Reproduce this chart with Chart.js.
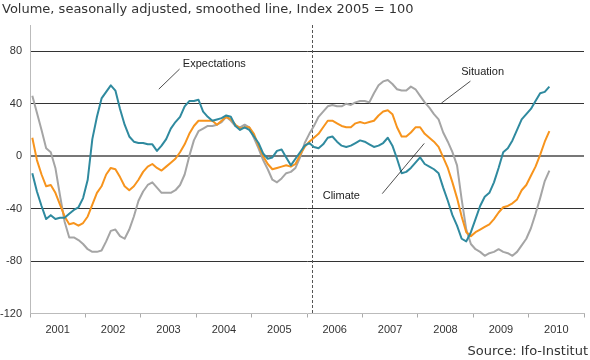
<!DOCTYPE html>
<html><head><meta charset="utf-8">
<script src="https://cdn.jsdelivr.net/npm/chart.js@4/dist/chart.umd.min.js"></script>
<style>html,body{margin:0;padding:0;background:#fff}</style>
</head><body>
<canvas id="c" width="590" height="360"></canvas>
<script>
// ---- data (monthly, Jan 2001 .. May 2010) ----
const years = ['2001','2002','2003','2004','2005','2006','2007','2008','2009','2010'];
const expectations = [
 -13,-27,-38,-48,-45,-48,-47,-47,-44,-41,-39,-32,
 -18,13,30,44,49,54,50,36,24,15,11,10,
 10,9,9,4,8,13,21,26,30,38,42,42,
 43,34,30,27,28,29,31,30,23,20,22,20,
 15,10,2,-2,-1,4,5,-1,-7,-2,3,8,
 10,7,6,9,14,15,11,8,7,8,10,12,
 11,9,7,8,10,14,8,-2,-13,-12,-9,-5,
 -1,-6,-8,-10,-13,-24,-34,-45,-53,-63,-65,-58,
 -48,-38,-31,-28,-20,-9,3,6,12,20,28,32,
 36,42,48,49,53];
const climate = [
 14,-3,-14,-23,-22,-28,-37,-46,-52,-51,-53,-51,
 -46,-37,-28,-23,-14,-9,-10,-16,-23,-26,-23,-18,
 -12,-8,-6,-9,-11,-8,-5,-2,3,9,17,23,
 27,27,27,27,24,27,30,28,24,21,22,22,
 17,8,0,-6,-10,-9,-8,-7,-8,-6,1,7,
 11,14,17,22,27,27,25,23,22,22,25,26,
 25,26,27,31,34,35,32,22,15,15,18,22,
 22,17,14,11,7,-1,-9,-20,-32,-46,-58,-61,
 -58,-56,-54,-52,-48,-43,-39,-38,-36,-33,-26,-22,
 -15,-8,1,11,19];
const situation = [
 46,33,20,6,3,-9,-30,-50,-62,-62,-64,-67,
 -71,-73,-73,-72,-65,-57,-56,-61,-63,-56,-46,-34,
 -27,-22,-20,-24,-28,-28,-28,-26,-22,-14,0,12,
 19,21,23,23,24,26,30,27,23,22,24,22,
 14,6,-3,-10,-18,-20,-17,-13,-12,-9,-1,10,
 17,23,30,34,38,39,38,38,40,39,41,42,
 42,41,48,54,57,58,55,51,50,50,53,51,
 46,41,37,32,28,18,11,3,-7,-33,-56,-67,
 -71,-73,-76,-74,-73,-71,-73,-74,-76,-73,-68,-63,
 -55,-44,-32,-19,-11];
const seriesNames = ['Expectations','Climate','Situation'];
const seriesColors = ['#2f8a9f','#f7941d','#a5a5a5'];
const titleText = 'Volume, seasonally adjusted, smoothed line, Index 2005 = 100';
const sourceText = 'Source: Ifo-Institut';
const breakMonth = 61; // dashed separator (months since Jan 2001)
const annotations = [
 {text:'Expectations', tx:33.1, ty:70.3, line:[27.9,51.1,32.4,66.4]},
 {text:'Situation',    tx:93.4, ty:64.1, line:[89.1,40.4,95.4,57.2]},
 {text:'Climate',      tx:63.4, ty:-30.1, line:[76.3,-28.6,85.4,9.7]}
];

const toPts = arr => arr.map((v,i)=>({x:i+0.5,y:v}));
const FONT = '"Liberation Sans", Arial, sans-serif';

const decor = {
  id:'decor',
  beforeDatasetsDraw(chart){
    const {ctx, chartArea:a, scales:{x}} = chart;
    const px = Math.round(x.getPixelForValue(breakMonth))+0.5;
    ctx.save();
    ctx.strokeStyle = '#555'; ctx.lineWidth = 1; ctx.setLineDash([3,2]);
    ctx.beginPath(); ctx.moveTo(px,a.top); ctx.lineTo(px,a.bottom); ctx.stroke();
    ctx.restore();
  },
  afterDatasetsDraw(chart){
    const {ctx, scales:{x,y}} = chart;
    ctx.save();
    ctx.strokeStyle = '#222'; ctx.lineWidth = 0.8;
    ctx.fillStyle = '#222'; ctx.font = '11px '+FONT; ctx.textBaseline='middle';
    annotations.forEach(a=>{
      const l=a.line;
      ctx.beginPath();
      ctx.moveTo(x.getPixelForValue(l[0]), y.getPixelForValue(l[1]));
      ctx.lineTo(x.getPixelForValue(l[2]), y.getPixelForValue(l[3]));
      ctx.stroke();
      ctx.fillText(a.text, x.getPixelForValue(a.tx), y.getPixelForValue(a.ty));
    });
    ctx.restore();
  },
  afterDraw(chart){
    const ctx = chart.ctx;
    ctx.save();
    ctx.fillStyle = '#333';
    ctx.font = '13px "DejaVu Sans", sans-serif';
    ctx.textBaseline = 'middle';
    ctx.textAlign = 'left';
    ctx.fillText(titleText, 2, 10);
    ctx.textAlign = 'right';
    ctx.fillText(sourceText, 588, 352);
    ctx.restore();
  }
};

new Chart(document.getElementById('c'), {
  type:'line',
  data:{
    datasets:[
      {label:seriesNames[0], data:toPts(expectations), borderColor:seriesColors[0], order:1},
      {label:seriesNames[1], data:toPts(climate), borderColor:seriesColors[1], order:2},
      {label:seriesNames[2], data:toPts(situation), borderColor:seriesColors[2], order:3}
    ]
  },
  options:{
    responsive:false, animation:false, devicePixelRatio:1,
    elements:{line:{borderWidth:2, tension:0, borderJoinStyle:'round'}, point:{radius:0}},
    layout:{padding:{top:25, right:5, left:0, bottom:0}},
    plugins:{legend:{display:false}, tooltip:{enabled:false}, title:{display:false}},
    scales:{
      x:{
        type:'linear', min:0, max:120,
        afterFit(s){ s.height = 46.5; },
        ticks:{stepSize:6, autoSkip:false, maxRotation:0, padding:6,
          color:'#333', font:{size:11, family:FONT},
          callback:v => (v%12===6) ? years[(v-6)/12] : ''},
        grid:{drawOnChartArea:false, drawTicks:true, tickLength:4,
          tickColor: c => (c.tick && c.tick.value%12===0) ? '#aaa' : 'rgba(0,0,0,0)'},
        border:{display:true, color:'#bbb', width:1}
      },
      y:{
        min:-120, max:100,
        afterFit(s){ s.width = 30; },
        ticks:{stepSize:40, includeBounds:false, padding:8, color:'#333', font:{size:11, family:FONT}},
        grid:{drawTicks:false,
          color: c => c.tick.value===0 ? '#777' : (c.tick.value===-120 ? 'rgba(0,0,0,0)' : '#333'),
          lineWidth: c => c.tick.value===0 ? 2 : 1},
        border:{display:true, color:'#bbb', width:1}
      }
    }
  },
  plugins:[decor]
});
</script>
</body></html>
